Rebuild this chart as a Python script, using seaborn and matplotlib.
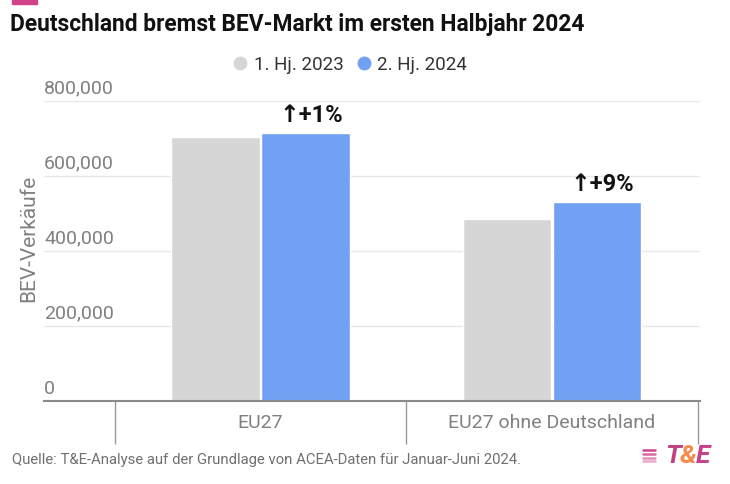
import pandas as pd
import matplotlib
matplotlib.use('Agg')
import matplotlib.pyplot as plt
from matplotlib.lines import Line2D
from matplotlib.patches import Rectangle
from matplotlib import transforms
import seaborn as sns

# Data
categories = ["EU27", "EU27 ohne Deutschland"]
series_names = ["1. Hj. 2023", "2. Hj. 2024"]
sales_2023 = [704000, 484000]
sales_2024 = [713000, 530000]
change_labels = ["↑+1%", "↑+9%"]
y_ticks = [0, 200000, 400000, 600000, 800000]

GREY_BAR = '#d6d6d6'
BLUE_BAR = '#72a1f3'
TEXT_GREY = '#808080'
PINK = '#d0428a'

sns.set_theme(style='white')
plt.rcParams['font.family'] = ['Roboto', 'DejaVu Sans']

df = pd.DataFrame({
    'Region': categories * 2,
    'Periode': [series_names[0]] * 2 + [series_names[1]] * 2,
    'Verkaeufe': sales_2023 + sales_2024,
})

fig = plt.figure(figsize=(7.3, 4.84), dpi=100)
ax = fig.add_axes([44 / 730, 1 - 400.5 / 484, (700 - 44) / 730, (400.5 - 100.7) / 484])

sns.barplot(
    data=df, x='Region', y='Verkaeufe', hue='Periode',
    palette=[GREY_BAR, BLUE_BAR], width=0.62, gap=0.02,
    saturation=1, legend=False, ax=ax,
)

ax.set_xlim(-0.743, 1.508)
ax.set_ylim(0, 800000)

# gridlines + labels sitting just above them (left aligned)
ax.set_yticks(y_ticks)
ax.set_yticklabels([])
ax.tick_params(axis='y', length=0)
lift = transforms.ScaledTranslation(0, 3 / 100, fig.dpi_scale_trans)
for t in y_ticks:
    if t > 0:
        ax.axhline(t, color='#e8e8e8', lw=1, zorder=0)
    ax.text(0.0, t, f"{t:,}", transform=ax.get_yaxis_transform() + lift,
            ha='left', va='bottom', fontsize=14, color=TEXT_GREY)

ax.set_ylabel('BEV-Verkäufe', fontsize=15, color=TEXT_GREY)
ax.yaxis.set_label_coords(-6 / 656, 0.54)
ax.set_xlabel('')

# x axis: category labels and separators
ax.set_xticks([0, 1])
ax.set_xticklabels(categories, fontsize=14, color=TEXT_GREY)
ax.set_xticks([-0.5, 0.5, 1.5], minor=True)
ax.tick_params(axis='x', which='major', length=0, pad=10)
ax.tick_params(axis='x', which='minor', length=31, width=1, color='#9a9a9a', bottom=True)

for side in ['top', 'right', 'left']:
    ax.spines[side].set_visible(False)
ax.spines['bottom'].set_color('#8a8a8a')
ax.spines['bottom'].set_linewidth(1.5)

# change annotations above the blue bars
blue_bars = ax.containers[1]
for bar, lab in zip(blue_bars, change_labels):
    ax.annotate(lab, (bar.get_x() + bar.get_width() / 2, bar.get_height()),
                xytext=(4, 8), textcoords='offset points', ha='center', va='baseline',
                fontsize=17, fontweight='bold', color='#111111')

# legend
handles = [Line2D([], [], marker='o', ls='none', markersize=9, color=c)
           for c in [GREY_BAR, BLUE_BAR]]
fig.legend(handles, series_names, loc='center', bbox_to_anchor=(349 / 730, 1 - 65 / 484),
           ncol=2, frameon=False, fontsize=13.5, handletextpad=0.2, columnspacing=0.6,
           labelcolor='#333333', handlelength=1.0)

# title, top pink bar, source
fig.add_artist(Rectangle((12 / 730, 1 - 4 / 484), 25 / 730, 4 / 484, color=PINK,
                         transform=fig.transFigure))
fig.text(10 / 730, 1 - 24 / 484, 'Deutschland bremst BEV-Markt im ersten Halbjahr 2024',
         ha='left', va='center', fontsize=16.4, fontweight='bold', color='#111111')
fig.text(12 / 730, 1 - 460 / 484,
         'Quelle: T&E-Analyse auf der Grundlage von ACEA-Daten für Januar-Juni 2024.',
         ha='left', va='center', fontsize=10.7, color='#707070')

# T&E logo
for i, a in enumerate([1.0, 0.8, 0.6, 0.45]):
    y = 1 - (450 + i * 3.8) / 484
    fig.add_artist(Line2D([643 / 730, 655 / 730], [y, y], color=PINK, alpha=a, lw=1.8,
                          transform=fig.transFigure))
renderer = fig.canvas.get_renderer()
x_px = 665
for ch, col in [('T', '#c2407f'), ('&', '#f58a4b'), ('E', '#c8408a')]:
    t = fig.text(x_px / 730, 1 - 456 / 484, ch, ha='left', va='center', fontsize=19,
                 fontweight='bold', style='italic', color=col)
    x_px += t.get_window_extent(renderer).width - 1

fig.savefig('out.png', dpi=100, facecolor='white')
